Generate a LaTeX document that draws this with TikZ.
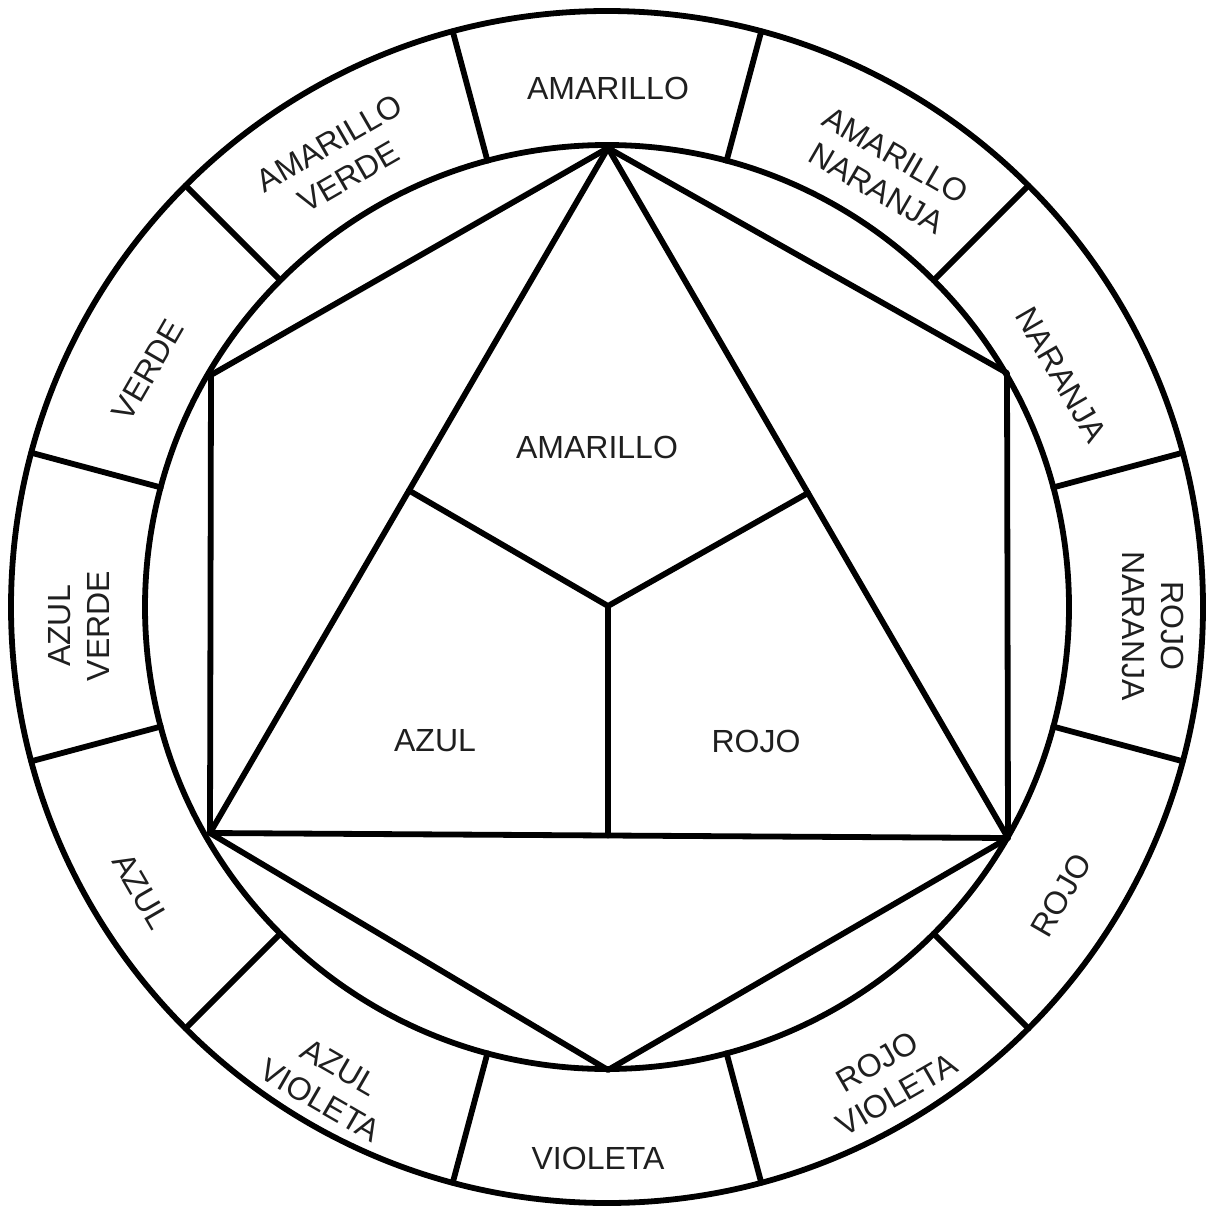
\documentclass[tikz,border=0pt]{standalone}
\usepackage{fontspec}
\setmainfont{Liberation Sans}
\usetikzlibrary{calc}
\begin{document}
\begin{tikzpicture}[x=0.01cm,y=-0.01cm,
  ln/.style={line width=1.65pt, line join=round, line cap=round},
  lbl/.style={font=\fontsize{9.1}{11}\selectfont, text=black!88, align=center, inner sep=0pt}]
\useasboundingbox (0,0) rectangle (1209,1209);
\fill[white] (0,0) rectangle (1209,1209);
\coordinate (C) at (607,607);
% rings
\draw[ln] (C) circle [radius=596];
\draw[ln] (C) circle [radius=462];
% ring dividers
\foreach \a in {15,45,...,345}
  \draw[ln] ([shift={(\a:462)}]C) -- ([shift={(\a:596)}]C);
% hexagon and triangle vertices
\coordinate (T)  at (608,148);
\coordinate (UR) at (1007,373);
\coordinate (LR) at (1008,838);
\coordinate (B)  at (608,1070);
\coordinate (LL) at (210,833);
\coordinate (UL) at (211,375);
\coordinate (M)  at (608,606);
\coordinate (ML) at ($(T)!0.5!(LL)$);
\coordinate (MR) at ($(T)!0.5!(LR)$);
\coordinate (MB) at ($(LL)!0.5!(LR)$);
\draw[ln] (T) -- (UR) -- (LR) -- (B) -- (LL) -- (UL) -- cycle;
\draw[ln] (T) -- (LR) -- (LL) -- cycle;
\draw[ln] (ML) -- (M) -- (MR);
\draw[ln] (M) -- (M |- MB);
% inner labels
\node[lbl] (iam) at (597,447) {AMARILLO};
\node[lbl] (iaz) at (435,741) {AZUL};
\node[lbl] (iro) at (756,741) {ROJO};
% ring labels
\node[lbl] (o1)  at (608,88)    {AMARILLO};
\node[lbl, rotate=-30] (o2)  at (886,172)  {AMARILLO\\NARANJA};
\node[lbl, rotate=-60] (o3)  at (1061,375) {NARANJA};
\node[lbl, rotate=-90] (o4)  at (1153,626) {ROJO\\NARANJA};
\node[lbl, rotate=60]  (o5)  at (1061,895) {ROJO};
\node[lbl, rotate=30]  (o6)  at (887,1078) {ROJO\\VIOLETA};
\node[lbl] (o7)  at (598,1158) {VIOLETA};
\node[lbl, rotate=-30] (o8)  at (330,1084) {AZUL\\VIOLETA};
\node[lbl, rotate=-60] (o9)  at (141,891)  {AZUL};
\node[lbl, rotate=90]  (o10) at (79,626)   {AZUL\\VERDE};
\node[lbl, rotate=60]  (o11) at (148,370)  {VERDE};
\node[lbl, rotate=30]  (o12) at (339,160)  {AMARILLO\\VERDE};
\end{tikzpicture}
\end{document}
